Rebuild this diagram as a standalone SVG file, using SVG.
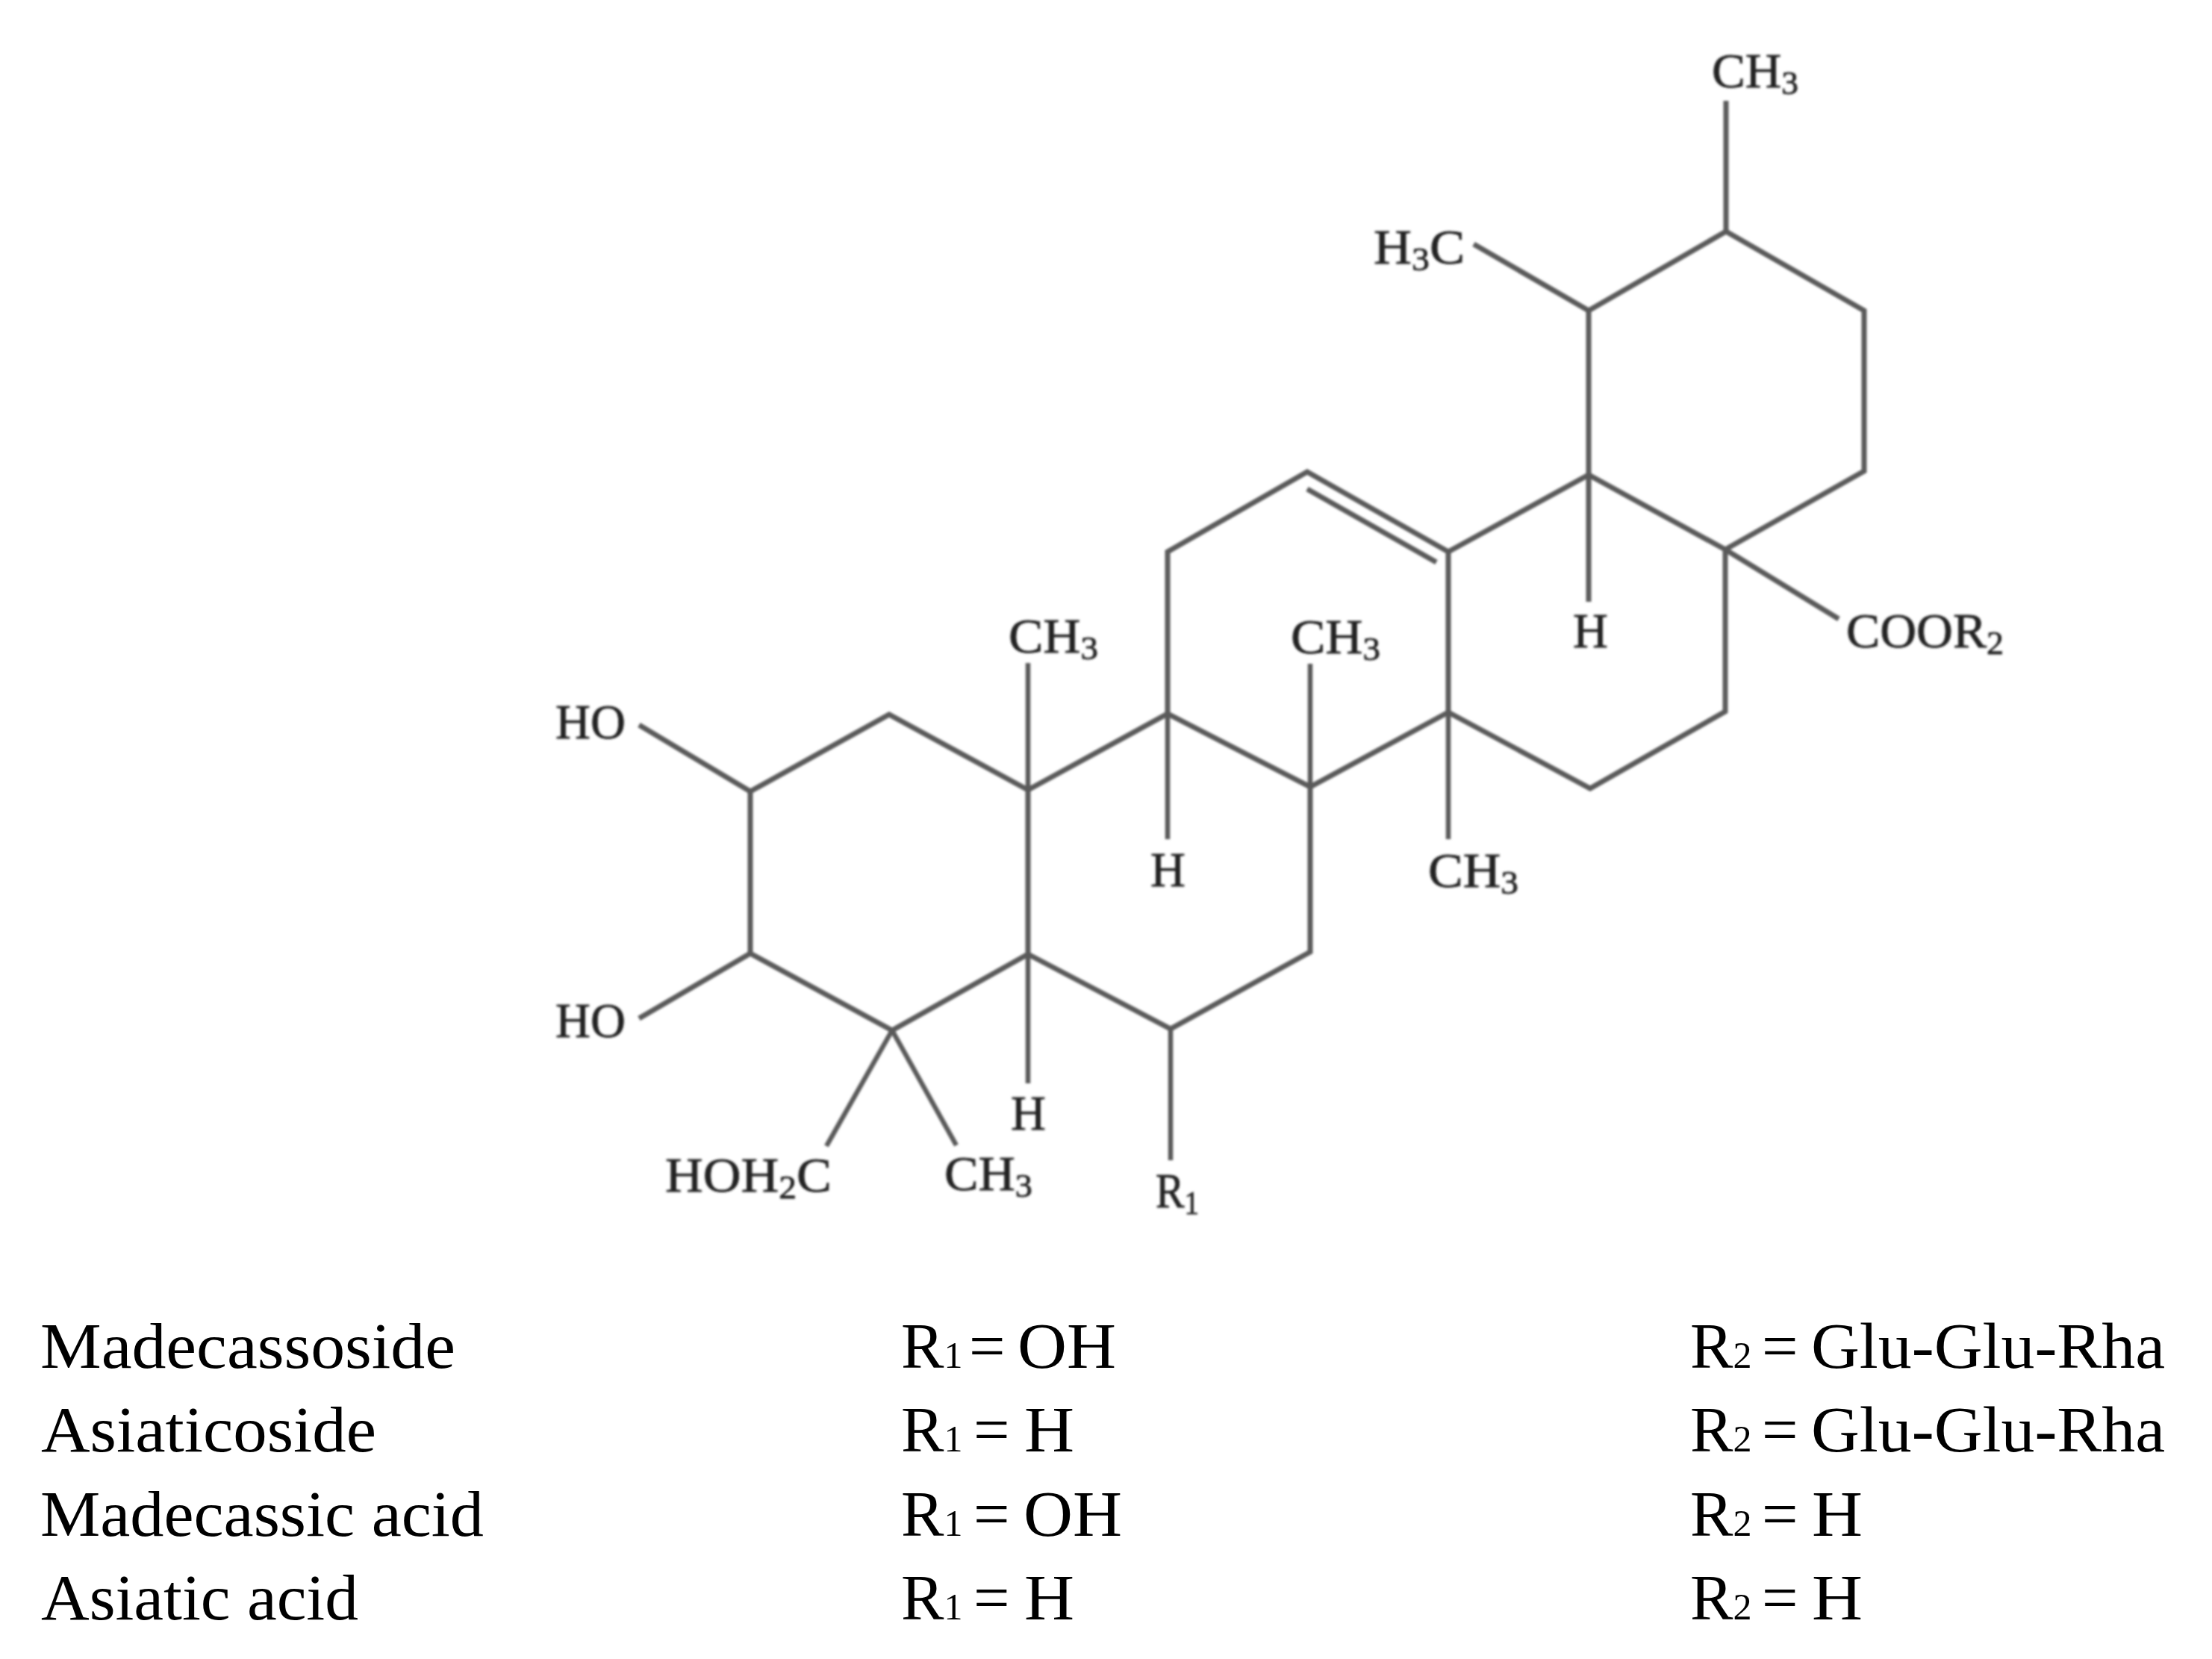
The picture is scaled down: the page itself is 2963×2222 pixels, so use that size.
<svg xmlns="http://www.w3.org/2000/svg" width="2963" height="2222" viewBox="0 0 2963 2222">
<defs><filter id="soft" x="-5%" y="-5%" width="110%" height="110%"><feGaussianBlur stdDeviation="1.4"/></filter></defs>
<style>
.bond{fill:none;stroke:#5a5a5a;stroke-width:7;stroke-linejoin:miter;stroke-linecap:butt}
.thin{stroke-width:6.5}
.chem{font-family:"Liberation Serif","Times New Roman",serif;font-size:65px;fill:#222;stroke:#222;stroke-width:.8}
.chem .s{font-size:44px}
.row{font-family:"Liberation Serif","Times New Roman",serif;font-size:86px;fill:#000}
.row .s{font-size:50px}
</style>
<rect width="2963" height="2222" fill="#fff"/>
<g id="connectors" filter="url(#soft)">
<path class="bond" d="M1005 1060L1191 957L1377 1058L1377 1278L1195 1380L1005 1277Z"/>
<path class="bond" d="M1377 1058L1564 956L1755 1054L1755 1275L1568 1378L1377 1278"/>
<path class="bond" d="M1564 956L1564 739L1751 632L1940 739L1940 954L1755 1054"/>
<path class="bond" d="M1751 655L1924 753"/>
<path class="bond" d="M1940 954L2130 1056L2311 953L2311 736L2128 636L1940 739"/>
<path class="bond" d="M2128 636L2128 416L2312 310L2497 416L2497 631L2311 736"/>
<path class="bond" d="M2312 135L2312 310"/>
<path class="bond" d="M1974 327L2128 416"/>
<path class="bond" d="M2128 636L2128 806"/>
<path class="bond" d="M2311 736L2463 829"/>
<path class="bond thin" d="M1377 888L1377 1058"/>
<path class="bond thin" d="M1755 889L1755 1054"/>
<path class="bond thin" d="M1940 954L1940 1124"/>
<path class="bond thin" d="M1564 956L1564 1124"/>
<path class="bond thin" d="M1377 1278L1377 1451"/>
<path class="bond thin" d="M1568 1378L1568 1554"/>
<path class="bond" d="M856 971L1005 1060"/>
<path class="bond" d="M856 1364L1005 1277"/>
<path class="bond thin" d="M1195 1380L1107 1535"/>
<path class="bond thin" d="M1195 1380L1281 1534"/>
</g>
<g id="atom-labels" class="chem" filter="url(#soft)">
<text id="label-ch3-top" x="2293" y="117" textLength="116" lengthAdjust="spacingAndGlyphs">CH<tspan class="s" dy="9">3</tspan></text>
<text id="label-h3c" x="1840" y="353" textLength="122" lengthAdjust="spacingAndGlyphs">H<tspan class="s" dy="9">3</tspan><tspan dy="-9">C</tspan></text>
<text id="label-h-d" x="2107" y="867">H</text>
<text id="label-coor2" x="2473" y="867" textLength="211" lengthAdjust="spacingAndGlyphs">COOR<tspan class="s" dy="9">2</tspan></text>
<text id="label-ch3-c" x="1729" y="875" textLength="120" lengthAdjust="spacingAndGlyphs">CH<tspan class="s" dy="9">3</tspan></text>
<text id="label-ch3-b" x="1351" y="874" textLength="120" lengthAdjust="spacingAndGlyphs">CH<tspan class="s" dy="9">3</tspan></text>
<text id="label-ch3-e" x="1913" y="1188" textLength="121" lengthAdjust="spacingAndGlyphs">CH<tspan class="s" dy="9">3</tspan></text>
<text id="label-ho-1" x="744" y="989">HO</text>
<text id="label-ho-2" x="744" y="1389">HO</text>
<text id="label-h-c" x="1541" y="1187">H</text>
<text id="label-h-b" x="1354" y="1513">H</text>
<text id="label-hoh2c" x="891" y="1596" textLength="223" lengthAdjust="spacingAndGlyphs">HOH<tspan class="s" dy="9">2</tspan><tspan dy="-9">C</tspan></text>
<text id="label-ch3-a" x="1265" y="1594" textLength="118" lengthAdjust="spacingAndGlyphs">CH<tspan class="s" dy="9">3</tspan></text>
<text id="label-r1" x="1548" y="1617" textLength="58" lengthAdjust="spacingAndGlyphs">R<tspan class="s" dy="9">1</tspan></text>
</g>
<g id="table" class="row">
<text x="54" y="1832" textLength="556" lengthAdjust="spacingAndGlyphs">Madecassoside</text>
<text x="55" y="1944" textLength="449" lengthAdjust="spacingAndGlyphs">Asiaticoside</text>
<text x="54" y="2057" textLength="594" lengthAdjust="spacingAndGlyphs">Madecassic acid</text>
<text x="55" y="2169" textLength="425" lengthAdjust="spacingAndGlyphs">Asiatic acid</text>
<text x="1207" y="1832">R<tspan class="s">1</tspan><tspan x="1298">=</tspan> <tspan x="1363" textLength="132" lengthAdjust="spacingAndGlyphs">OH</tspan></text>
<text x="1207" y="1944">R<tspan class="s">1</tspan><tspan x="1304">=</tspan> <tspan x="1372" textLength="67" lengthAdjust="spacingAndGlyphs">H</tspan></text>
<text x="1207" y="2057">R<tspan class="s">1</tspan><tspan x="1304">=</tspan> <tspan x="1371" textLength="132" lengthAdjust="spacingAndGlyphs">OH</tspan></text>
<text x="1207" y="2169">R<tspan class="s">1</tspan><tspan x="1304">=</tspan> <tspan x="1372" textLength="67" lengthAdjust="spacingAndGlyphs">H</tspan></text>
<text x="2264" y="1832">R<tspan class="s">2</tspan><tspan x="2360">=</tspan> <tspan x="2426" textLength="474" lengthAdjust="spacingAndGlyphs">Glu-Glu-Rha</tspan></text>
<text x="2264" y="1944">R<tspan class="s">2</tspan><tspan x="2360">=</tspan> <tspan x="2426" textLength="474" lengthAdjust="spacingAndGlyphs">Glu-Glu-Rha</tspan></text>
<text x="2264" y="2057">R<tspan class="s">2</tspan><tspan x="2360">=</tspan> <tspan x="2427" textLength="68" lengthAdjust="spacingAndGlyphs">H</tspan></text>
<text x="2264" y="2169">R<tspan class="s">2</tspan><tspan x="2360">=</tspan> <tspan x="2427" textLength="68" lengthAdjust="spacingAndGlyphs">H</tspan></text>
</g>
</svg>
